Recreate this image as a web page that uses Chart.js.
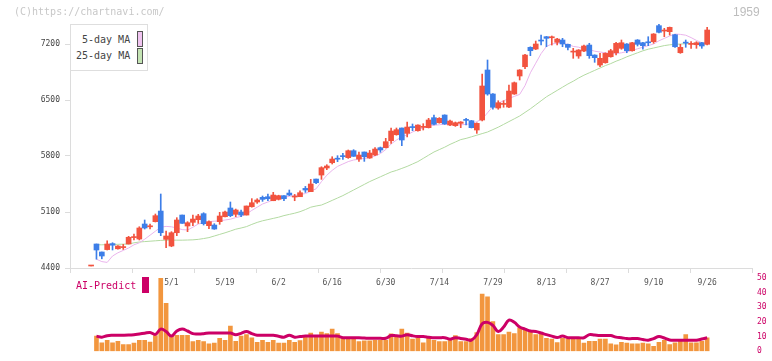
<!DOCTYPE html>
<html><head><meta charset="utf-8">
<script src="https://cdn.jsdelivr.net/npm/chart.js@4/dist/chart.umd.min.js"></script>
<style>
html,body{margin:0;padding:0;background:#fff;}
#wrap{position:relative;width:772px;height:361px;overflow:hidden;font-family:"DejaVu Sans Mono",monospace;}
canvas{position:absolute;left:0;top:0;}
.t{position:absolute;white-space:pre;line-height:1;}
</style></head><body>
<div id="wrap">
<canvas id="c1" width="772" height="361"></canvas>
<canvas id="c2" width="772" height="361"></canvas>
<div class="t" style="left:14px;top:7px;font-size:10px;color:#c8c8c8">(C)https://chartnavi.com/</div>
<div class="t" style="left:733px;top:6px;font-size:12px;color:#bdbdbd;font-family:'Liberation Sans',sans-serif">1959</div>
<div style="position:absolute;left:70px;top:24px;width:78px;height:47px;box-sizing:border-box;border:1px solid #dedede;background:#fff"></div>
<div class="t" style="left:82px;top:35px;font-size:10px;color:#444">5-day MA</div>
<div class="t" style="left:76px;top:51px;font-size:10px;color:#444">25-day MA</div>
<div style="position:absolute;left:137px;top:31px;width:6px;height:16px;box-sizing:border-box;border:1px solid #555;background:#f0c4f0"></div>
<div style="position:absolute;left:137px;top:48px;width:6px;height:16px;box-sizing:border-box;border:1px solid #555;background:#c4e4b4"></div>
<div class="t" style="left:76px;top:281px;font-size:10px;color:#cc0066">AI-Predict</div>
<div style="position:absolute;left:142px;top:277px;width:7px;height:16px;background:#cc0066"></div>
</div>
<script>
// ---- data (index 0 .. 115, trading days up to 9/26) ----
const opens = [
 4425,4700,4600,4630,4705,4640,4655,4700,4780,4762,
 4950,4915,4979,5112,4758,4675,4841,5062,4925,4971,
 5004,5079,4929,4937,4979,5041,5150,5071,5100,5062,
 5166,5225,5283,5291,5241,5258,5304,5337,5287,5291,
 5395,5354,5512,5562,5650,5716,5770,5800,5779,5866,
 5762,5850,5775,5812,5904,5904,5991,6066,6150,6083,
 6165,6116,6158,6154,6279,6216,6312,6187,6179,6208,
 6255,6241,6125,6250,6875,6575,6400,6445,6412,6575,
 6800,6916,7158,7137,7247,7291,7278,7221,7250,7196,
 7099,7050,7112,7187,7062,6937,6966,7041,7091,7146,
 7200,7116,7250,7216,7225,7229,7429,7362,7354,7316,
 7091,7221,7195,7191,7216,7196];
const highs = [
 4425,4700,4600,4740,4716,4680,4695,4796,4825,4916,
 5000,4950,5075,5325,4862,4854,5029,5062,4979,5062,
 5071,5091,4991,4954,5096,5112,5225,5137,5125,5175,
 5267,5266,5300,5325,5346,5310,5304,5375,5320,5366,
 5420,5508,5512,5666,5691,5791,5804,5833,5875,5879,
 5850,5850,5870,5904,5912,6021,6150,6150,6150,6225,
 6200,6190,6204,6271,6312,6280,6315,6250,6225,6230,
 6271,6245,6215,6825,7000,6580,6491,6491,6687,6725,
 6880,7070,7165,7237,7312,7295,7300,7270,7271,7200,
 7146,7130,7185,7209,7065,7083,7090,7134,7221,7250,
 7205,7220,7255,7220,7291,7330,7450,7396,7412,7320,
 7196,7250,7229,7229,7220,7409];
const lows = [
 4425,4510,4515,4625,4625,4635,4632,4700,4750,4750,
 4887,4887,4975,4804,4654,4666,4804,4958,4854,4929,
 4958,4937,4891,4883,4946,5040,5041,5041,5041,5062,
 5160,5208,5233,5241,5241,5250,5241,5304,5241,5291,
 5345,5354,5454,5508,5629,5700,5729,5758,5770,5795,
 5733,5733,5770,5805,5846,5900,5958,6060,5929,6037,
 6116,6110,6125,6150,6190,6210,6195,6180,6170,6154,
 6187,6150,6083,6240,6560,6384,6384,6409,6405,6570,
 6750,6891,7054,7130,7187,7166,7187,7187,7166,7125,
 7021,7021,7105,7021,6971,6916,6960,7035,7062,7134,
 7091,7110,7175,7134,7179,7209,7340,7291,7312,7158,
 7083,7159,7146,7146,7146,7190];
const closes = [
 4425,4625,4550,4700,4685,4675,4665,4784,4790,4900,
 4900,4925,5054,4841,4800,4841,5000,4958,4966,5012,
 5050,4954,4979,4887,5050,5100,5054,5125,5062,5175,
 5216,5250,5258,5266,5312,5304,5266,5312,5295,5341,
 5375,5450,5466,5654,5675,5762,5760,5792,5866,5796,
 5812,5791,5837,5887,5875,5979,6112,6129,6000,6162,
 6155,6187,6166,6250,6196,6271,6200,6237,6216,6225,
 6245,6154,6208,6675,6575,6409,6466,6455,6612,6716,
 6875,7062,7116,7200,7237,7271,7288,7262,7200,7158,
 7108,7125,7175,7054,7029,7021,7083,7116,7208,7216,
 7116,7216,7196,7179,7215,7325,7346,7372,7408,7166,
 7158,7211,7205,7216,7175,7375];
const ma5 = [
 null,4510,4480,4470,4550,4590,4620,4650,4690,4715,
 4760,4810,4860,4910,4920,4915,4900,4880,4875,4910,
 4950,4965,4980,4985,4990,5000,5010,5030,5045,5075,
 5120,5160,5200,5225,5250,5270,5285,5295,5305,5320,
 5330,5360,5390,5480,5560,5620,5670,5700,5730,5750,
 5760,5770,5780,5800,5830,5880,5950,6000,6040,6065,
 6100,6130,6150,6170,6185,6190,6200,6195,6190,6190,
 6195,6205,6230,6260,6340,6420,6460,6490,6520,6545,
 6570,6680,6840,6960,7080,7170,7200,7210,7210,7195,
 7170,7160,7140,7130,7110,7100,7090,7080,7080,7090,
 7105,7120,7140,7160,7180,7200,7240,7270,7300,7325,
 7320,7310,7280,7245,7215,7200];
const ma25 = [
 null,4690,4690,4692,4694,4696,4698,4700,4715,4725,
 4730,4735,4740,4745,4748,4748,4748,4748,4750,4752,
 4758,4768,4780,4800,4820,4840,4862,4885,4900,4917,
 4945,4970,4990,5005,5020,5035,5055,5070,5085,5104,
 5130,5160,5175,5187,5215,5245,5275,5305,5340,5375,
 5410,5445,5480,5510,5540,5570,5600,5620,5645,5670,
 5700,5730,5770,5810,5850,5880,5910,5945,5975,6005,
 6020,6040,6060,6080,6100,6130,6160,6195,6230,6265,
 6300,6345,6390,6440,6490,6540,6580,6620,6660,6700,
 6735,6775,6810,6840,6870,6900,6930,6955,6985,7010,
 7040,7065,7090,7115,7135,7150,7165,7180,7190,7195,
 7200,7203,7205,7208,7210,7212];
const volume = [
 null,10.3,5.7,7.5,5.7,6.7,4.6,4.6,5.5,7.5,
 7.5,6.3,10.7,49.7,32.7,10.3,10.9,10.9,10.9,6.5,
 7.5,6.5,5.0,5.5,8.8,7.5,17.2,6.7,10.3,11.3,
 9.2,6.1,7.5,6.1,7.5,5.5,5.5,7.5,6.1,7.2,
 9.8,12.4,9.5,13.0,12.0,15.1,12.0,9.2,8.6,8.6,
 6.5,7.1,7.1,7.5,7.5,7.5,11.8,9.6,15.1,12.4,
 8.2,9.2,5.7,8.8,7.5,6.5,6.5,8.2,10.7,6.5,
 6.5,8.6,12.8,39.0,37.1,20.3,11.3,11.3,13.0,12.0,
 15.9,15.1,13.0,11.3,11.6,8.8,8.2,5.9,8.8,8.2,
 8.2,8.2,5.5,6.7,6.7,8.2,8.2,5.0,4.4,6.1,
 5.5,5.0,5.0,5.5,5.0,3.4,6.1,7.5,4.6,5.7,
 6.7,11.3,5.7,5.7,6.7,9.2];
const aiPredict = [
 null,10.3,9.6,10.6,10.9,10.9,10.9,11.0,11.3,11.8,
 12.3,12.8,11.5,15.1,13.4,10.3,13.8,15.1,13.8,12.0,
 11.8,12.0,12.4,12.4,12.4,12.4,12.4,11.3,12.2,13.4,
 12.0,10.9,10.9,10.9,10.9,10.2,9.6,10.9,9.6,10.0,
 10.3,10.3,10.3,10.3,10.3,10.3,10.3,9.2,9.2,9.2,
 9.2,9.0,8.8,8.8,8.8,8.8,10.7,10.5,10.3,11.3,
 10.5,10.0,10.0,9.6,9.2,9.2,9.2,8.2,9.2,8.7,
 8.2,7.5,11.3,18.7,19.7,17.6,13.4,16.5,21.2,19.7,
 16.5,15.1,13.8,13.4,12.4,11.3,10.3,9.4,10.3,9.2,
 9.2,9.2,9.2,11.3,11.0,10.7,10.7,10.7,9.6,9.2,
 8.6,8.6,8.6,8.0,7.5,8.6,10.0,9.0,7.7,7.5,
 7.5,7.5,7.5,7.5,8.3,9.2];
const tickLabels = ['5/1','5/19','6/2','6/16','6/30','7/14','7/29','8/13','8/27','9/10','9/26'];
const tickIndex  = [15,25,35,45,55,65,75,85,95,105,115];
const priceTicks = [4400,5100,5800,6500,7200];
const volTicks   = [0,10,20,30,40,50];

// ---- build ----
const FONT = '"DejaVu Sans Mono", monospace';
const UP = '#f2533f', DOWN = '#3d7ee8';
const XMIN = -3.94, XMAX = 123.37;
const colors = opens.map((o,i)=> closes[i] >= o ? UP : DOWN);
const wicks = opens.map((o,i)=>({x:i, y:[lows[i], highs[i]]}));
const bodies = opens.map((o,i)=>({x:i, y:[Math.min(o,closes[i]), Math.max(o,closes[i])]}));
const pts = arr => arr.map((v,i)=>({x:i, y:v}));

new Chart(document.getElementById('c1'), {
  type: 'bar',
  data: { datasets: [
    { type:'line', data: pts(ma25), borderColor:'#b3daa2', borderWidth:1, pointRadius:0, order:3 },
    { type:'line', data: pts(ma5), borderColor:'#eab4ec', borderWidth:1, pointRadius:0, order:2 },
    { data: wicks, backgroundColor: colors, barThickness:1, grouped:false, order:1 },
    { data: bodies, backgroundColor: colors, barThickness:5, grouped:false, minBarLength:1, order:0 }
  ]},
  options: {
    responsive:false, animation:false,
    layout:{ padding:{ top:24, right:20, bottom:68, left:0 } },
    plugins:{ legend:{display:false}, tooltip:{enabled:false} },
    scales:{
      x:{ type:'linear', min:XMIN, max:XMAX, offset:false,
        afterBuildTicks(s){
          const t=[];
          for(let k=0;k<=11;k++) t.push({value: XMIN + k*(XMAX-XMIN)/11, g:true});
          tickIndex.forEach((v,j)=>t.push({value:v, txt:tickLabels[j]}));
          t.sort((a,b)=>a.value-b.value);
          s.ticks = t;
        },
        afterFit(s){ s.height = 25; },
        ticks:{ autoSkip:false, maxRotation:0, padding:5, color:'#555', font:{family:FONT, size:8},
          callback:(v,i,ticks)=> ticks[i].txt || '' },
        grid:{ offset:false, drawOnChartArea:false, tickLength:5,
          color: c => (c.tick && c.tick.g) ? '#dcdcdc' : 'rgba(0,0,0,0)' },
        border:{ color:'#dcdcdc' }
      },
      y:{ min:4400, max:7450,
        afterBuildTicks(s){ s.ticks = priceTicks.map(v=>({value:v})); },
        afterFit(s){ s.width = 70; },
        ticks:{ padding:5, color:'#444', font:{family:FONT, size:8}, callback:v=>String(v) },
        grid:{ drawOnChartArea:false, tickLength:5, color:'#dcdcdc' },
        border:{ color:'#dcdcdc' }
      }
    }
  }
});

new Chart(document.getElementById('c2'), {
  type: 'bar',
  data: { datasets: [
    { type:'line', data: pts(aiPredict), borderColor:'#cc0066', borderWidth:3, pointRadius:0, tension:0.4, order:0 },
    { data: pts(volume), backgroundColor:'#f2963e', barThickness:4, grouped:false, order:1 }
  ]},
  options: {
    responsive:false, animation:false,
    layout:{ padding:{ top:278, right:0, bottom:3, left:70 } },
    plugins:{ legend:{display:false}, tooltip:{enabled:false} },
    scales:{
      x:{ type:'linear', min:XMIN, max:XMAX, offset:false, display:false, grid:{offset:false} },
      y:{ position:'right', min:0, max:50,
        afterBuildTicks(s){ s.ticks = volTicks.map(v=>({value:v})); },
        afterFit(s){ s.width = 20; },
        ticks:{ padding:5, color:'#cc0066', font:{family:FONT, size:8}, callback:v=>String(v) },
        grid:{ display:false, drawTicks:false, tickLength:0 }, border:{ display:false }
      }
    }
  }
});
</script>
</body></html>
